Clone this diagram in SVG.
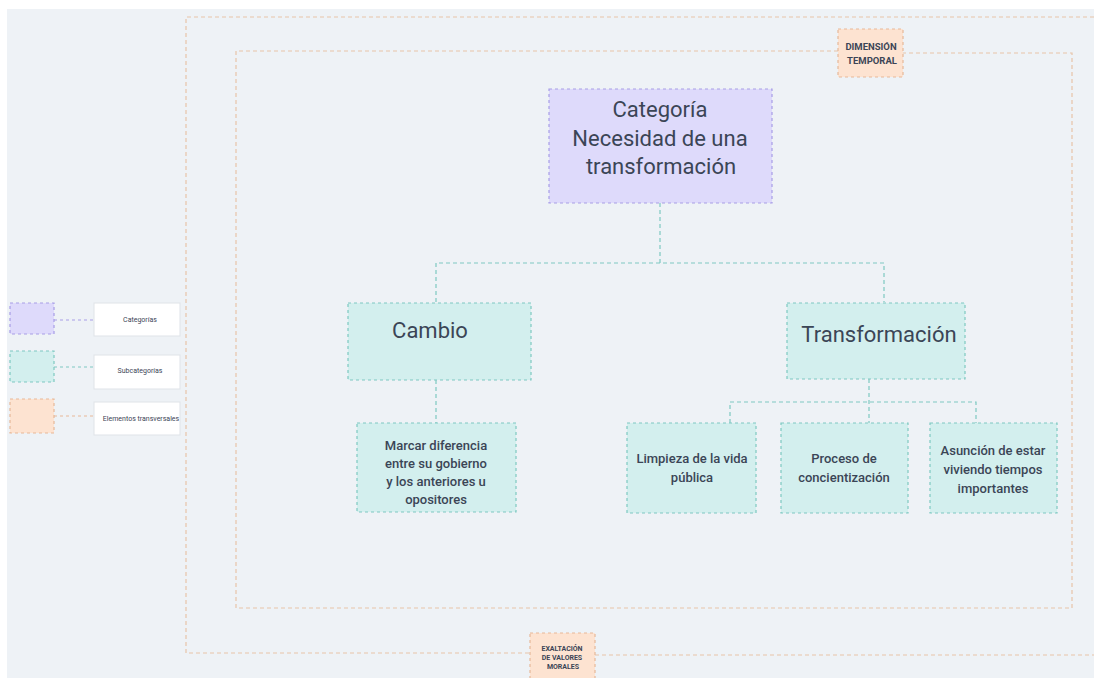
<svg xmlns="http://www.w3.org/2000/svg" width="1094" height="678" viewBox="0 0 1094 678">
<style>
text{font-family:Roboto,"Liberation Sans",sans-serif;fill:#3b4556;text-anchor:middle}
.cat{fill:#dedafb;stroke:#a79de6;stroke-width:1.2;stroke-dasharray:3 3}
.sub{fill:#d3efee;stroke:#7ec8c1;stroke-width:1.2;stroke-dasharray:3 3}
.tra{fill:#fde3d1;stroke:#e7b898;stroke-width:1.2;stroke-dasharray:3 3}
.frame{fill:none;stroke:#e8c4a8;stroke-width:1.2;stroke-dasharray:4 3}
.lbl{fill:#ffffff;stroke:#dfe3e8;stroke-width:1}
.con{fill:none;stroke:#7ec8c1;stroke-width:1.2;stroke-dasharray:4 3}
.big{font-size:22px;font-weight:400}
.mid{font-size:13px;font-weight:500}
.leg{font-size:7px}
</style>
<rect x="0" y="0" width="1094" height="678" fill="#ffffff"/>
<rect x="7" y="9" width="1087" height="669" fill="#eef2f6"/>
<g id="frames">
<path class="frame" d="M1094 17 H186 V653 H530 M595 655 H1094"/>
<path class="frame" d="M838 51 H236 V608 H1072 V53 H903"/>
</g>
<g id="connectors">
<path class="con" d="M660 203 V263 M436 302 V263 H884 V302"/>
<path class="con" d="M436 380 V423"/>
<path class="con" d="M869 379 V423 M730 423 V402 H976 V423"/>
<path d="M54 320 H94" fill="none" stroke="#a79de6" stroke-width="1.2" stroke-dasharray="3 3"/>
<path d="M54 367 H94" fill="none" stroke="#7ec8c1" stroke-width="1.2" stroke-dasharray="3 3"/>
<path d="M54 416 H94" fill="none" stroke="#e7b898" stroke-width="1.2" stroke-dasharray="3 3"/>
</g>
<g id="dimension-temporal">
<rect class="tra" x="838" y="29" width="65" height="48"/>
<text x="871" y="50" font-size="9.5" font-weight="bold">DIMENSIÓN</text>
<text x="872" y="64" font-size="9.5" font-weight="bold">TEMPORAL</text>
</g>
<g id="exaltacion">
<rect class="tra" x="530" y="633" width="65" height="48"/>
<text x="562" y="651" font-size="7" font-weight="bold">EXALTACIÓN</text>
<text x="562" y="660" font-size="7" font-weight="bold">DE VALORES</text>
<text x="563" y="669" font-size="7" font-weight="bold">MORALES</text>
</g>
<g id="categoria">
<rect class="cat" x="549" y="89" width="223" height="114"/>
<text class="big" x="660" y="117">Categoría</text>
<text class="big" x="660" y="146">Necesidad de una</text>
<text class="big" x="661" y="174">transformación</text>
</g>
<g id="cambio">
<rect class="sub" x="348" y="303" width="183" height="77"/>
<text class="big" x="430" y="338">Cambio</text>
</g>
<g id="transformacion">
<rect class="sub" x="787" y="303" width="178" height="76"/>
<text class="big" x="879" y="342">Transformación</text>
</g>
<g id="marcar">
<rect class="sub" x="357" y="423" width="159" height="89"/>
<text class="mid" x="436" y="450">Marcar diferencia</text>
<text class="mid" x="436" y="468">entre su gobierno</text>
<text class="mid" x="436" y="486">y los anteriores u</text>
<text class="mid" x="436" y="504">opositores</text>
</g>
<g id="limpieza">
<rect class="sub" x="627" y="423" width="129" height="90"/>
<text class="mid" x="692" y="463">Limpieza de la vida</text>
<text class="mid" x="692" y="482">pública</text>
</g>
<g id="proceso">
<rect class="sub" x="781" y="423" width="127" height="90"/>
<text class="mid" x="844" y="463">Proceso de</text>
<text class="mid" x="844" y="482">concientización</text>
</g>
<g id="asuncion">
<rect class="sub" x="930" y="423" width="127" height="90"/>
<text class="mid" x="993" y="455">Asunción de estar</text>
<text class="mid" x="993" y="474">viviendo tiempos</text>
<text class="mid" x="993" y="493">importantes</text>
</g>
<g id="legend-categorias">
<rect class="cat" x="10" y="303" width="44" height="31"/>
<rect class="lbl" x="94" y="303" width="86" height="33"/>
<text class="leg" x="140" y="322">Categorías</text>
</g>
<g id="legend-subcategorias">
<rect class="sub" x="10" y="351" width="44" height="31"/>
<rect class="lbl" x="94" y="355" width="86" height="34"/>
<text class="leg" x="140" y="373">Subcategorías</text>
</g>
<g id="legend-transversales">
<rect class="tra" x="10" y="399" width="44" height="34"/>
<rect class="lbl" x="94" y="402" width="86" height="33"/>
<text class="leg" x="141" y="421">Elementos transversales</text>
</g>
</svg>
